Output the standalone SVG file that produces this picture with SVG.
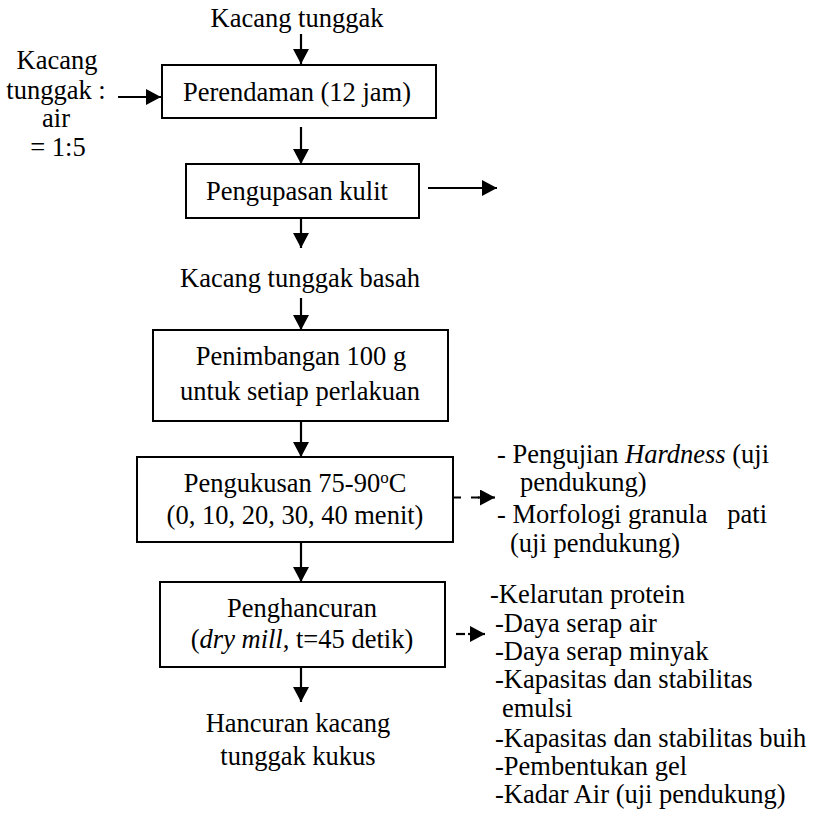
<svg xmlns="http://www.w3.org/2000/svg" width="814" height="825" viewBox="0 0 814 825">
<style>
text{font-family:"Liberation Serif","Times New Roman",serif;font-size:26.5px;fill:#000}
.c{text-anchor:middle}
.box{fill:#fff;stroke:#000;stroke-width:2}
.ln{stroke:#000;stroke-width:2.2;fill:none}
.dash{stroke:#000;stroke-width:2.2;fill:none;stroke-dasharray:8 10}
.i{font-style:italic}
.pre{white-space:pre}
</style>
<defs>
<marker id="ah" markerUnits="userSpaceOnUse" markerWidth="16" markerHeight="16" viewBox="0 0 15 16" refX="15" refY="8" orient="auto">
<path d="M0,0 L15,8 L0,16 z" fill="#000"/>
</marker>
</defs>
<rect width="814" height="825" fill="#fff"/>
<g id="connectors">
<line class="ln" x1="301" y1="34" x2="301" y2="64" marker-end="url(#ah)"/>
<line class="ln" x1="118" y1="97" x2="161" y2="97" marker-end="url(#ah)"/>
<line class="ln" x1="301" y1="127" x2="301" y2="164" marker-end="url(#ah)"/>
<line class="ln" x1="428" y1="188" x2="497" y2="188" marker-end="url(#ah)"/>
<line class="ln" x1="301" y1="218" x2="301" y2="248" marker-end="url(#ah)"/>
<line class="ln" x1="301" y1="298" x2="301" y2="330" marker-end="url(#ah)"/>
<line class="ln" x1="301" y1="421" x2="301" y2="457" marker-end="url(#ah)"/>
<line class="dash" x1="453" y1="497.5" x2="481" y2="497.5"/>
<line class="ln" x1="478" y1="497.5" x2="495" y2="497.5" marker-end="url(#ah)"/>
<line class="ln" x1="301" y1="542" x2="301" y2="582" marker-end="url(#ah)"/>
<line class="ln" x1="456" y1="634" x2="465" y2="634"/>
<line class="ln" x1="468" y1="634" x2="485" y2="634" marker-end="url(#ah)"/>
<line class="ln" x1="301" y1="667" x2="301" y2="702" marker-end="url(#ah)"/>
</g>
<g id="start"><text class="c" x="297" y="27">Kacang tunggak</text></g>
<g id="ratio">
<text class="c" x="57" y="69">Kacang</text>
<text class="c" x="56" y="99">tunggak :</text>
<text class="c" x="56" y="127">air</text>
<text class="c" x="58" y="156">= 1:5</text>
</g>
<g id="perendaman">
<rect class="box" x="162" y="65" width="274" height="53"/>
<text class="c" x="297" y="101">Perendaman (12 jam)</text>
</g>
<g id="pengupasan">
<rect class="box" x="186" y="164" width="233" height="54"/>
<text class="c" x="297" y="200">Pengupasan kulit</text>
</g>
<g id="basah"><text class="c" x="300" y="287">Kacang tunggak basah</text></g>
<g id="penimbangan">
<rect class="box" x="153" y="330" width="295" height="91"/>
<text class="c" x="301" y="365">Penimbangan 100 g</text>
<text class="c" x="300" y="400">untuk setiap perlakuan</text>
</g>
<g id="pengukusan">
<rect class="box" x="137" y="457" width="316" height="85"/>
<text class="c" x="295" y="492">Pengukusan 75-90<tspan font-size="17" dy="-9">o</tspan><tspan dy="9">C</tspan></text>
<text class="c" x="295" y="524">(0, 10, 20, 30, 40 menit)</text>
</g>
<g id="uji-pendukung">
<text x="497" y="463">- Pengujian <tspan class="i">Hardness</tspan> (uji</text>
<text x="520" y="491">pendukung)</text>
<text class="pre" x="497" y="523">- Morfologi granula   pati</text>
<text x="510" y="552">(uji pendukung)</text>
</g>
<g id="penghancuran">
<rect class="box" x="160" y="582" width="285" height="85"/>
<text class="c" x="302" y="617">Penghancuran</text>
<text class="c" x="302" y="648">(<tspan class="i">dry mill</tspan>, t=45 detik)</text>
</g>
<g id="analisis">
<text x="490" y="603">-Kelarutan protein</text>
<text x="495" y="632">-Daya serap air</text>
<text x="495" y="660">-Daya serap minyak</text>
<text x="495" y="688">-Kapasitas dan stabilitas</text>
<text x="502" y="717">emulsi</text>
<text x="495" y="747">-Kapasitas dan stabilitas buih</text>
<text x="495" y="775">-Pembentukan gel</text>
<text x="495" y="803">-Kadar Air (uji pendukung)</text>
</g>
<g id="hancuran">
<text class="c" x="298" y="732">Hancuran kacang</text>
<text class="c" x="298" y="765">tunggak kukus</text>
</g>
</svg>
